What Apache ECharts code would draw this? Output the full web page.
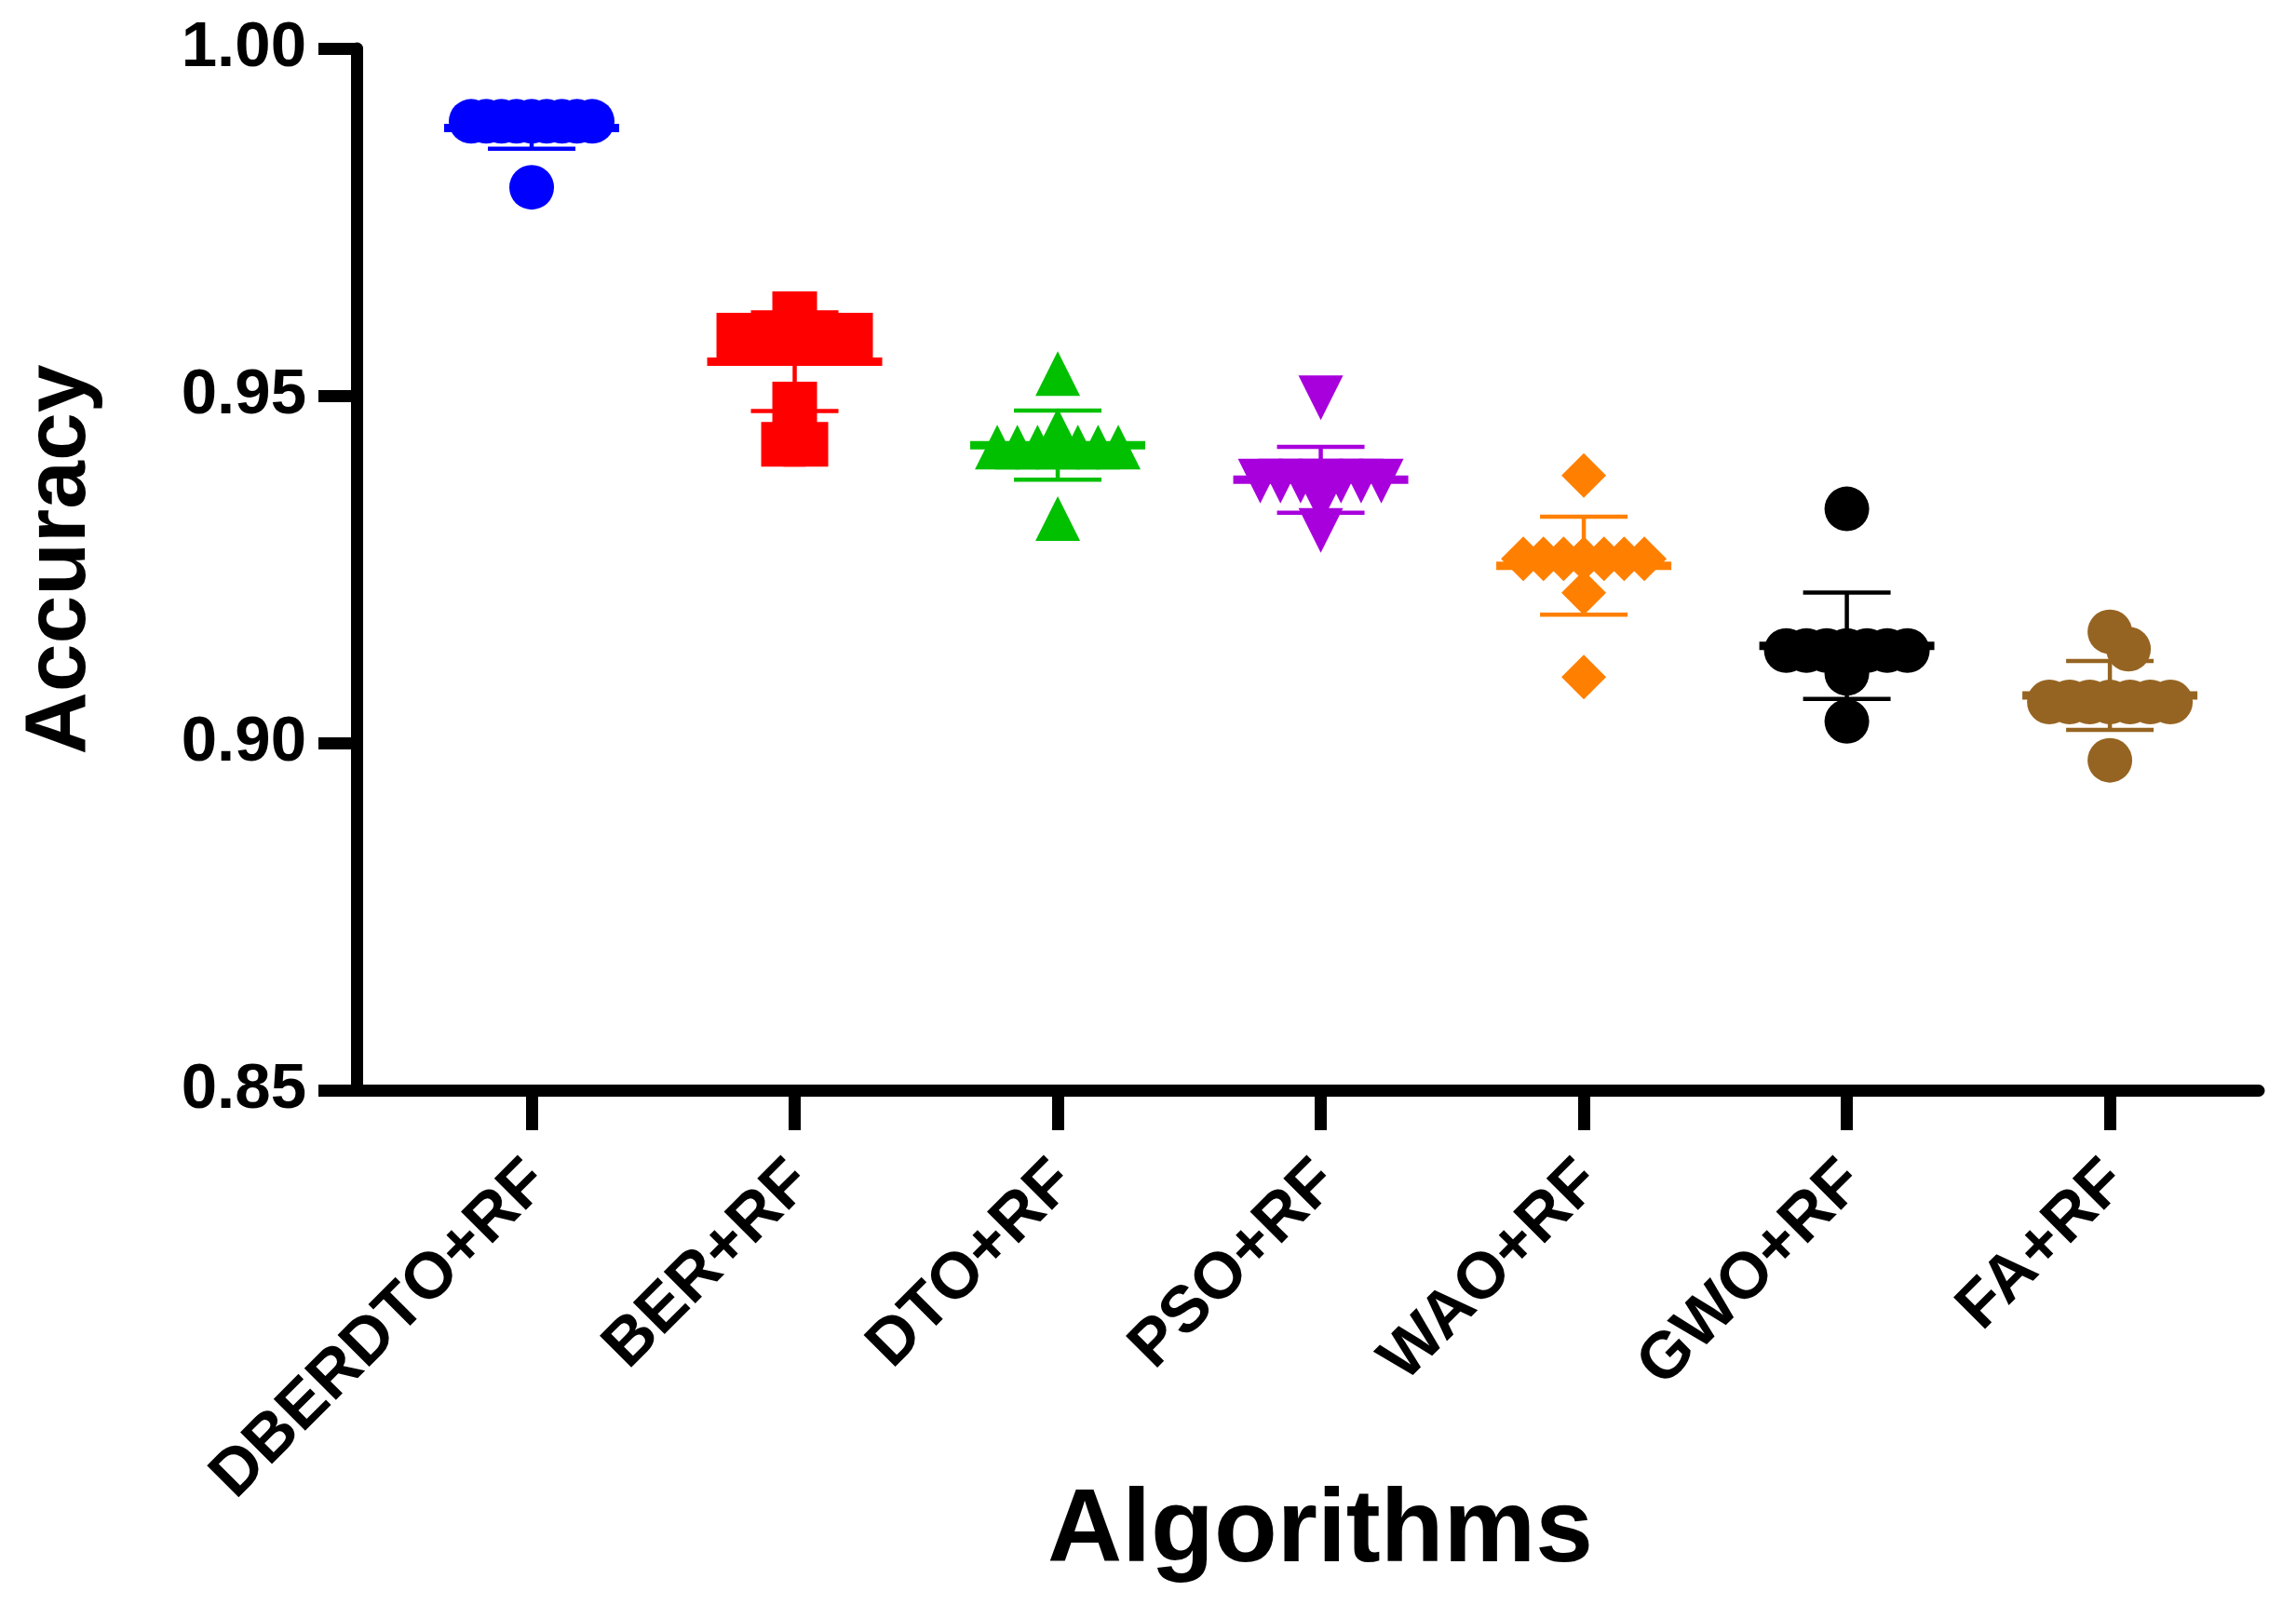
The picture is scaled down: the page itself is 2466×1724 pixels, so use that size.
<!DOCTYPE html>
<html>
<head>
<meta charset="utf-8">
<script src="https://cdn.jsdelivr.net/npm/echarts@6/dist/echarts.min.js"></script>
<style>
  html, body { margin: 0; padding: 0; background: #fff; }
  #chart { width: 2466px; height: 1724px; }
</style>
</head>
<body>
<div id="chart"></div>
<script>
// categories along the x axis
var categories = ['DBERDTO+RF', 'BER+RF', 'DTO+RF', 'PSO+RF', 'WAO+RF', 'GWO+RF', 'FA+RF'];

// accuracy of the 10 runs per algorithm
var dberdto = [0.9895, 0.9895, 0.9895, 0.9895, 0.9895, 0.9895, 0.9895, 0.9895, 0.9895, 0.9800];
var ber     = [0.9618, 0.9587, 0.9587, 0.9587, 0.9587, 0.9587, 0.9587, 0.9488, 0.9430, 0.9430];
var dto     = [0.9532, 0.9450, 0.9426, 0.9426, 0.9426, 0.9426, 0.9426, 0.9426, 0.9426, 0.9323];
var pso     = [0.9497, 0.9377, 0.9377, 0.9377, 0.9377, 0.9377, 0.9377, 0.9377, 0.9347, 0.9306];
var wao     = [0.9385, 0.9265, 0.9265, 0.9265, 0.9265, 0.9265, 0.9265, 0.9265, 0.9216, 0.9095];
var gwo     = [0.9337, 0.9133, 0.9133, 0.9133, 0.9133, 0.9133, 0.9133, 0.9133, 0.9100, 0.9031];
var fa      = [0.9160, 0.9135, 0.9059, 0.9059, 0.9059, 0.9059, 0.9059, 0.9059, 0.9059, 0.8975];

var groups = [dberdto, ber, dto, pso, wao, gwo, fa];
var yTicks = [0.85, 0.90, 0.95, 1.00];

var colors  = ['#0000ff', '#ff0000', '#00c000', '#a800dd', '#ff8000', '#000000', '#966422'];
var symbols = ['circle', 'rect', 'triangle', 'triangle', 'diamond', 'circle', 'circle'];
var rotates = [0, 0, 0, 180, 0, 0, 0];

var FONT = '"Liberation Sans", Arial, Helvetica, sans-serif';
var SYM = 48;        // marker size, px
var SWARM_W = 130;   // max spread of a row of equal values, px
var MIN_D = 27;      // min distance between single points, px

function mean(a) { return a.reduce(function (s, v) { return s + v; }, 0) / a.length; }
function sd(a) {
  var m = mean(a);
  return Math.sqrt(a.reduce(function (s, v) { return s + (v - m) * (v - m); }, 0) / (a.length - 1));
}

// horizontal scatter offsets (px) like a column scatter plot
function swarm(values, pxPerY) {
  var counts = {}, used = {}, singles = [], placed = [];
  var off = new Array(values.length);
  values.forEach(function (v) { counts[v] = (counts[v] || 0) + 1; });
  values.forEach(function (v, i) {
    var k = counts[v];
    if (k > 1) {
      var sp = Math.min(SWARM_W / (k - 1), SYM / 2);
      var j = used[v] || 0;
      used[v] = j + 1;
      off[i] = (j - (k - 1) / 2) * sp;
    } else singles.push(i);
  });
  singles.sort(function (a, b) { return values[b] - values[a]; });
  singles.forEach(function (i) {
    var y = values[i] * pxPerY, dx = 0;
    for (var s = 0; s < 200; s++) {
      var cand = s === 0 ? 0 : (s % 2 ? 1 : -1) * Math.ceil(s / 2) * 2;
      var ok = placed.every(function (p) { return Math.hypot(cand - p.x, y - p.y) >= MIN_D; });
      if (ok) { dx = cand; break; }
    }
    off[i] = dx;
    placed.push({ x: dx, y: y });
  });
  return off;
}

var chart = echarts.init(document.getElementById('chart'));

var baseOption = {
  animation: false,
  backgroundColor: '#fff',
  grid: { left: 383, right: 40, top: 52, bottom: 553, containLabel: false, outerBoundsMode: 'none' },
  xAxis: {
    type: 'value',
    min: -0.6655, max: 6.566,
    splitLine: { show: false },
    axisLine: { onZero: false, lineStyle: { color: '#000', width: 13 } },
    axisTick: { customValues: [0, 1, 2, 3, 4, 5, 6], length: 43, lineStyle: { color: '#000', width: 13 } },
    axisLabel: {
      customValues: [0, 1, 2, 3, 4, 5, 6],
      formatter: function (v) { return categories[Math.round(v)]; },
      rotate: 45, margin: 81, align: 'right', verticalAlign: 'top', lineHeight: 20,
      fontFamily: FONT, fontWeight: 'bold', fontSize: 70, color: '#000'
    }
  },
  yAxis: {
    type: 'value',
    min: yTicks[0], max: yTicks[yTicks.length - 1], interval: 0.05,
    splitLine: { show: false },
    axisLine: { onZero: false, lineStyle: { color: '#000', width: 13 } },
    axisTick: { length: 41, lineStyle: { color: '#000', width: 13 } },
    axisLabel: {
      formatter: function (v) { return v.toFixed(2); },
      margin: 54,
      fontFamily: FONT, fontWeight: 'bold', fontSize: 69, color: '#000'
    }
  },
  // axis titles
  graphic: [
    {
      type: 'text', x: 65, y: 601, rotation: Math.PI / 2,
      style: { text: 'Accuracy', font: 'bold 93px ' + FONT, fill: '#000', align: 'center', verticalAlign: 'middle' }
    },
    {
      type: 'text', x: 1418, y: 1646,
      style: { text: 'Algorithms', font: 'bold 111px ' + FONT, fill: '#000', align: 'center', verticalAlign: 'middle' }
    }
  ],
  series: []
};
chart.setOption(baseOption);

var pxPerX = Math.abs(chart.convertToPixel({ xAxisIndex: 0 }, 1) - chart.convertToPixel({ xAxisIndex: 0 }, 0));
var pxPerY = Math.abs(chart.convertToPixel({ yAxisIndex: 0 }, 1) - chart.convertToPixel({ yAxisIndex: 0 }, 0.9));
pxPerY = pxPerY / 0.1;

var series = [];

// mean ± SD bars
series.push({
  type: 'custom',
  z: 1,
  data: groups.map(function (g, i) { return [i, mean(g), sd(g)]; }),
  renderItem: function (params, api) {
    var x = api.value(0), m = api.value(1), s = api.value(2);
    var c = api.coord([x, m]);
    var top = api.coord([x, m + s]);
    var bot = api.coord([x, m - s]);
    var col = colors[params.dataIndex];
    var thin = { stroke: col, lineWidth: 4.5 };
    return {
      type: 'group',
      children: [
        { type: 'line', shape: { x1: c[0], y1: top[1], x2: c[0], y2: bot[1] }, style: thin },
        { type: 'line', shape: { x1: c[0] - 47, y1: top[1], x2: c[0] + 47, y2: top[1] }, style: thin },
        { type: 'line', shape: { x1: c[0] - 47, y1: bot[1], x2: c[0] + 47, y2: bot[1] }, style: thin },
        { type: 'line', shape: { x1: c[0] - 94, y1: c[1], x2: c[0] + 94, y2: c[1] }, style: { stroke: col, lineWidth: 9 } }
      ]
    };
  }
});

groups.forEach(function (g, i) {
  var off = swarm(g, pxPerY);
  series.push({
    type: 'scatter',
    name: categories[i],
    z: 2,
    symbol: symbols[i],
    symbolRotate: rotates[i],
    symbolSize: SYM,
    itemStyle: { color: colors[i], opacity: 1 },
    data: g.map(function (v, j) { return [i + off[j] / pxPerX, v]; })
  });
});

chart.setOption({ series: series });
</script>
</body>
</html>
